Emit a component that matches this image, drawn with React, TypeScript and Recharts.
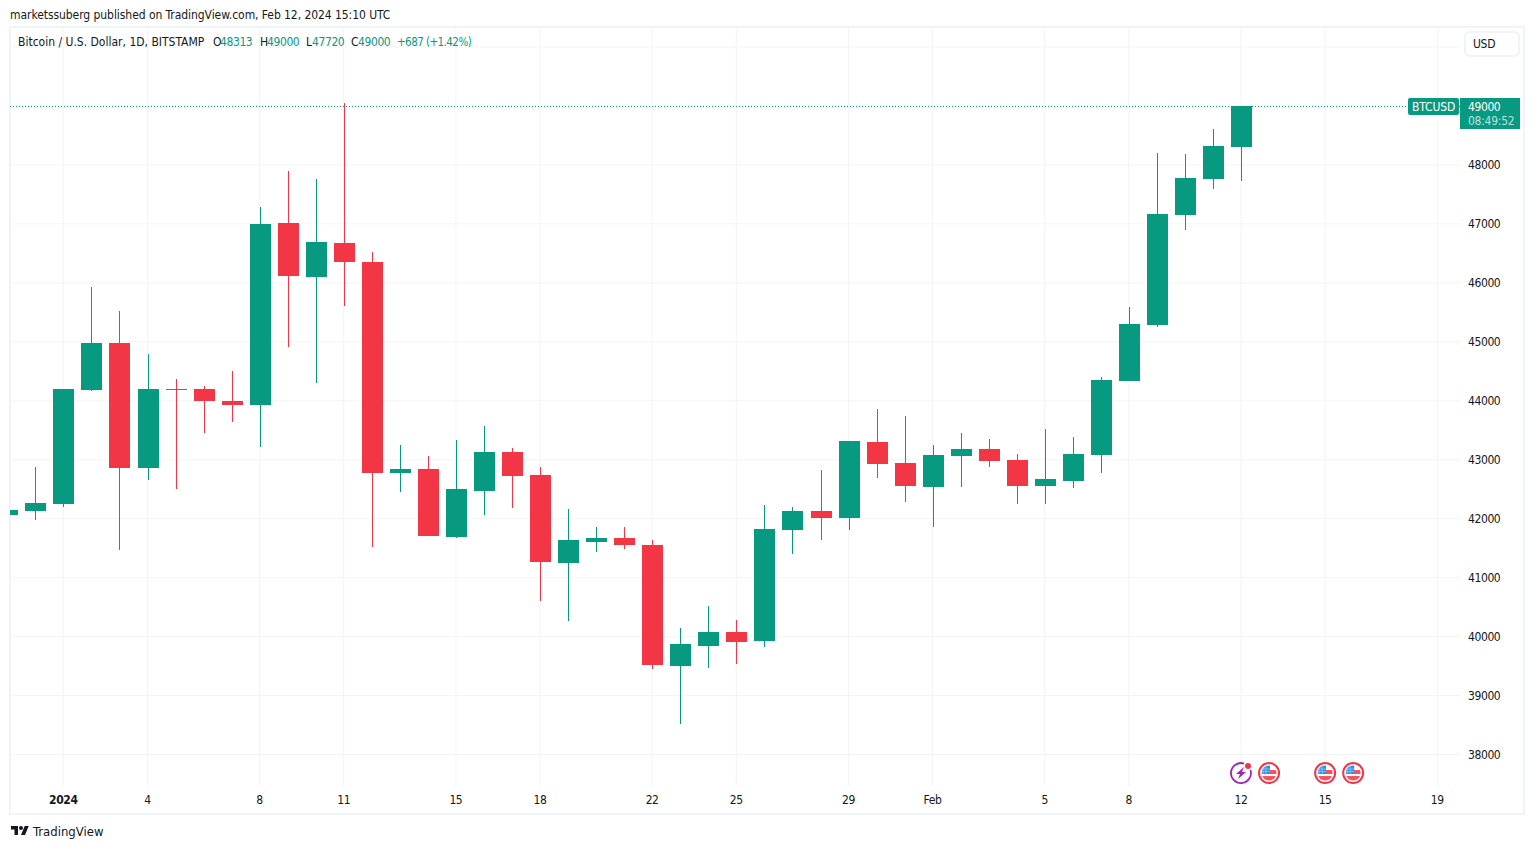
import {
  Bar,
  CartesianGrid,
  ComposedChart,
  ReferenceDot,
  ReferenceLine,
  XAxis,
  YAxis,
} from "recharts";

const days = [
  -2, -1, 0, 1, 2, 3, 4, 5, 6, 7, 8, 9, 10, 11, 12, 13, 14, 15, 16, 17, 18, 19,
  20, 21, 22, 23, 24, 25, 26, 27, 28, 29, 30, 31, 32, 33, 34, 35, 36, 37, 38,
  39, 40, 41, 42,
];
const opens = [
  42063, 42132, 42251, 44184, 44981, 42861, 44201, 44201, 43997, 43930, 47016,
  46100, 46677, 46355, 42776, 42844, 41691, 42471, 43133, 42742, 41250, 41606,
  41674, 41555, 39503, 39842, 40080, 39927, 41810, 42132, 42013, 43302, 42946,
  42539, 43065, 43184, 42997, 42556, 42641, 43082, 44337, 45286, 47152, 47763,
  48313,
];
const highs = [
  42200, 42878, 44201, 45931, 45524, 44795, 44371, 44252, 44506, 47288, 47898,
  47763, 49051, 46524, 43251, 43065, 43336, 43574, 43200, 42878, 42166, 41860,
  41860, 41640, 40147, 40521, 40283, 42234, 42200, 42827, 43319, 43862, 43743,
  43251, 43455, 43353, 43099, 43523, 43387, 44404, 45592, 48204, 48187, 48610,
  49000,
];
const lows = [
  41980, 41979, 42200, 44167, 41470, 42658, 42505, 43455, 43641, 43217, 44913,
  44303, 45609, 41521, 42454, 41700, 41680, 42064, 42183, 40606, 40266, 41436,
  41487, 39452, 38520, 39469, 39537, 39825, 41403, 41640, 41810, 42692, 42285,
  41860, 42539, 42878, 42251, 42251, 42522, 42776, 44337, 45252, 46898, 47593,
  47720,
];
const closes = [
  42148, 42267, 44201, 44981, 42861, 44201, 44184, 43997, 43930, 47000, 46117,
  46694, 46355, 42776, 42844, 41708, 42505, 43133, 42725, 41267, 41640, 41674,
  41555, 39520, 39876, 40080, 39910, 41827, 42132, 42013, 43319, 42929, 42556,
  43082, 43184, 42980, 42556, 42675, 43099, 44354, 45303, 47169, 47780, 48322,
  49000,
];

const dayTicks = [0, 3, 7, 10, 14, 17, 21, 24, 28, 31, 35, 38, 42, 45, 49];
const dayLabels = ["2024", "4", "8", "11", "15", "18", "22", "25", "29", "Feb", "5", "8", "12", "15", "19"];
const priceTicks = [38000, 39000, 40000, 41000, 42000, 43000, 44000, 45000, 46000, 47000, 48000];
const priceGrid = [...priceTicks, 49000, 50000];
const lastPrice = 49000;
const flagDays = [43, 45, 46];
const lightningDay = 42;
const eventPrice = 37686;

const GREEN = "#089981";
const RED = "#f23645";
const INK = "#131722";
const GRID = "#f3f4f8";
const BORDER = "#f0f3fa";
const FONT = "'DejaVu Sans Condensed', 'DejaVu Sans', sans-serif";
const DIGIT_SPACING = -0.4;

const candles = days.map((day, i) => ({
  day,
  open: opens[i],
  high: highs[i],
  low: lows[i],
  close: closes[i],
}));

type CandleProps = {
  x?: number;
  y?: number;
  width?: number;
  height?: number;
  payload?: (typeof candles)[number];
};

function Candle({ x = 0, y = 0, width = 0, height = 0, payload }: CandleProps) {
  if (!payload) {
    return null;
  }
  const { open, high, low, close } = payload;
  const color = close >= open ? GREEN : RED;
  const toY = (price: number) => y + ((high - price) / (high - low)) * height;
  const bodyTop = Math.round(toY(Math.max(open, close)));
  const bodyBottom = Math.round(toY(Math.min(open, close)));
  // bar x comes back slightly right of the tick, pull it onto the pixel grid
  const center = Math.round(x + width / 2 - 0.35);

  return (
    <g shapeRendering="crispEdges">
      <rect x={center} y={y} width={1} height={height} fill={color} />
      <rect
        x={center - 10}
        y={bodyTop}
        width={21}
        height={Math.max(bodyBottom - bodyTop, 1)}
        fill={color}
      />
    </g>
  );
}

function DayTick({ x = 0, y = 0, payload }: { x?: number; y?: number; payload?: { value: number } }) {
  const label = dayLabels[dayTicks.indexOf(payload?.value ?? 0)];
  return (
    <text
      x={x}
      y={y}
      dy={10}
      textAnchor="middle"
      fill={INK}
      fontFamily={FONT}
      fontSize={12}
      letterSpacing={DIGIT_SPACING}
      fontWeight={label === "2024" ? 700 : 400}
    >
      {label}
    </text>
  );
}

function PriceTags({ viewBox }: { viewBox?: { x: number; y: number; width: number } }) {
  if (!viewBox) {
    return null;
  }
  const right = viewBox.x + viewBox.width;
  const top = Math.round(viewBox.y) - 8;
  return (
    <g fontFamily={FONT} fontSize={12}>
      <rect x={right - 52} y={top} width={51} height={17} rx={2} fill={GREEN} />
      <text x={right - 48} y={top + 13} fill="#fff" letterSpacing={-0.1}>
        BTCUSD
      </text>
      <rect x={right} y={top} width={60} height={31} fill={GREEN} />
      <text x={right + 8} y={top + 13} fill="#fff" letterSpacing={DIGIT_SPACING}>
        {lastPrice}
      </text>
      <text x={right + 8} y={top + 27} fill="rgba(255,255,255,0.72)" letterSpacing={-0.25}>
        08:49:52
      </text>
    </g>
  );
}

function FlagIcon({ cx = 0, cy = 0 }: { cx?: number; cy?: number }) {
  const clipId = `flag-${Math.round(cx)}`;
  return (
    <g>
      <circle cx={cx} cy={cy} r={10} fill="#fff" stroke={RED} strokeWidth={2} />
      <clipPath id={clipId}>
        <circle cx={cx} cy={cy} r={7.5} />
      </clipPath>
      <g clipPath={`url(#${clipId})`}>
        <rect x={cx - 8} y={cy - 8} width={16} height={16} fill="#fff" />
        <rect x={cx} y={cy - 3} width={8} height={4} fill="#f7525f" />
        <rect x={cx - 8} y={cy + 3} width={16} height={5} fill="#f7525f" />
        <rect x={cx - 8} y={cy - 8} width={9} height={9} fill="#2e8fe8" />
        <path
          d={`M${cx - 6} ${cy - 8}V${cy + 1}M${cx - 3} ${cy - 8}V${cy + 1}M${cx - 8} ${cy - 4}H${cx + 1}M${cx - 8} ${cy - 1.5}H${cx + 1}`}
          stroke="#9fd0fa"
          strokeWidth={0.7}
        />
      </g>
    </g>
  );
}

function LightningIcon({ cx = 0, cy = 0 }: { cx?: number; cy?: number }) {
  return (
    <g>
      <path
        d={`M${cx + 3} ${cy - 9.5}A10 10 0 1 0 ${cx + 9.5} ${cy - 3}`}
        fill="none"
        stroke="#9c27b0"
        strokeWidth={1.8}
      />
      <path
        d={`M${cx + 3} ${cy - 6}L${cx - 5} ${cy + 1}H${cx - 1}L${cx - 3} ${cy + 6}L${cx + 5} ${cy - 1}H${cx + 1}Z`}
        fill="#9c27b0"
      />
      <circle cx={cx + 7} cy={cy - 7} r={3} fill={RED} />
    </g>
  );
}

function LegendText({
  left,
  text,
  color = INK,
  spacing = 0,
  size = 12,
}: {
  left: number;
  text: string;
  color?: string;
  spacing?: number;
  size?: number;
}) {
  return (
    <span style={{ position: "absolute", left, top: 34, color, letterSpacing: spacing, fontSize: size, lineHeight: "16px", whiteSpace: "pre" }}>
      {text}
    </span>
  );
}

function Legend() {
  return (
    <>
      <LegendText left={18} text="Bitcoin / U.S. Dollar, 1D, BITSTAMP" />
      <LegendText left={213} text="O" />
      <LegendText left={220} text="48313" color={GREEN} spacing={DIGIT_SPACING} />
      <LegendText left={260} text="H" />
      <LegendText left={267} text="49000" color={GREEN} spacing={DIGIT_SPACING} />
      <LegendText left={306} text="L" />
      <LegendText left={312} text="47720" color={GREEN} spacing={DIGIT_SPACING} />
      <LegendText left={351} text="C" />
      <LegendText left={358} text="49000" color={GREEN} spacing={DIGIT_SPACING} />
      <LegendText left={397} text="+687 (+1.42%)" color={GREEN} spacing={-0.55} size={11.5} />
    </>
  );
}

export default function App() {
  return (
    <div
      style={{
        position: "absolute",
        left: 0,
        top: 0,
        width: 1534,
        height: 849,
        background: "#fff",
        fontFamily: FONT,
        color: INK,
      }}
    >
      <div style={{ position: "absolute", left: 10, top: 7, fontSize: 12, lineHeight: "16px", letterSpacing: -0.06 }}>
        marketssuberg published on TradingView.com, Feb 12, 2024 15:10 UTC
      </div>
      <div
        style={{
          position: "absolute",
          left: 9,
          top: 26,
          width: 1512,
          height: 785,
          border: `2px solid ${BORDER}`,
        }}
      />
      <div style={{ position: "absolute", left: 0, top: 0 }}>
        <ComposedChart
          width={1534}
          height={849}
          data={candles}
          margin={{ top: 28, right: 14, bottom: 36, left: 10 }}
        >
          <CartesianGrid
            stroke={GRID}
            horizontalValues={priceGrid}
            verticalValues={dayTicks}
            syncWithTicks={false}
          />
          <XAxis
            dataKey="day"
            type="number"
            domain={[-1.9, 49.81]}
            allowDataOverflow
            ticks={dayTicks}
            interval={0}
            height={27}
            axisLine={false}
            tickLine={false}
            tick={<DayTick />}
          />
          <YAxis
            orientation="right"
            type="number"
            domain={[37466, 50323]}
            ticks={priceTicks}
            interval={0}
            width={60}
            axisLine={false}
            tickLine={false}
            tickMargin={2}
            tick={{ fill: INK, fontSize: 12, fontFamily: FONT, letterSpacing: DIGIT_SPACING }}
          />
          <Bar
            dataKey={(d: (typeof candles)[number]) => [d.low, d.high]}
            barSize={21}
            isAnimationActive={false}
            shape={<Candle />}
          />
          <ReferenceLine
            y={lastPrice}
            stroke={GREEN}
            strokeDasharray="1 2"
            shapeRendering="crispEdges"
            transform="translate(0 0.5)"
            label={<PriceTags />}
          />
          <ReferenceDot
            x={lightningDay}
            y={eventPrice}
            shape={<LightningIcon />}
          />
          {flagDays.map((day) => (
            <ReferenceDot key={day} x={day} y={eventPrice} shape={<FlagIcon />} />
          ))}
        </ComposedChart>
      </div>
      <Legend />
      <div
        style={{
          position: "absolute",
          left: 1464,
          top: 31,
          width: 45,
          height: 22,
          border: `2px solid ${BORDER}`,
          borderRadius: 6,
          background: "#fff",
          fontSize: 12,
          lineHeight: "23px",
          letterSpacing: -0.3,
          paddingLeft: 7,
        }}
      >
        USD
      </div>
      <svg
        style={{ position: "absolute", left: 10, top: 824 }}
        width={20}
        height={14}
        viewBox="0 0 36 28"
      >
        <path d="M14 22H7V11H0V4h14v18zM28 22h-8l7.5-18h8L28 22z" fill={INK} />
        <circle cx={20} cy={8} r={4} fill={INK} />
      </svg>
      <div style={{ position: "absolute", left: 33, top: 824, fontSize: 13, lineHeight: "16px" }}>
        TradingView
      </div>
    </div>
  );
}
